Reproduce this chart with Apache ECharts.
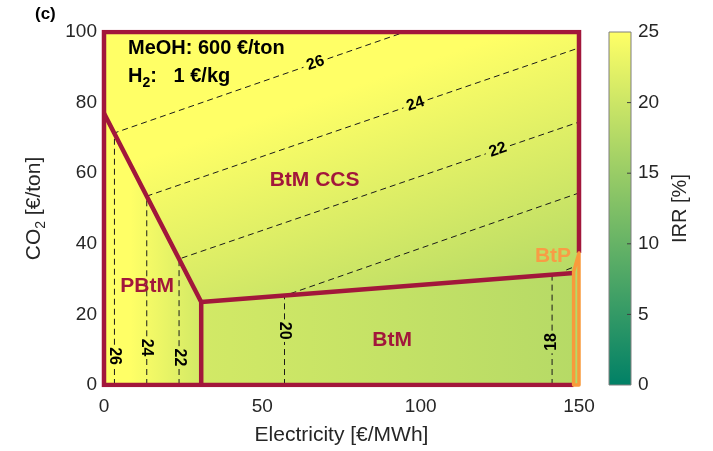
<!DOCTYPE html>
<html>
<head>
<meta charset="utf-8">
<script src="https://cdn.jsdelivr.net/npm/echarts@6/dist/echarts.min.js"></script>
<style>
  html, body { margin: 0; padding: 0; background: #ffffff; }
  #chart { width: 713px; height: 451px; }
</style>
</head>
<body>
<div id="chart"></div>
<script>
// ---- axes ----
const xTicks = [0, 50, 100, 150];          // Electricity [€/MWh]
const yTicks = [0, 20, 40, 60, 80, 100];   // CO2 [€/ton]
const irrTicks = [0, 5, 10, 15, 20, 25];   // IRR [%]

// ---- operating regions, vertices as [electricity, CO2] ----
const regionCCS  = [[0, 77], [0, 100], [150, 100], [150, 37.4], [148.3, 31.7], [30.7, 23.5]];
const regionPBtM = [[0, 0], [0, 77], [30.7, 23.5], [30.7, 0]];
const regionBtM  = [[30.7, 0], [30.7, 23.5], [148.3, 31.7], [148.3, 0]];
const regionBtP  = [[148.3, 0], [148.3, 32.1], [150, 37.4], [150, 0]];

// ---- region borders ----
const borderOuter = [[150, 37.4], [150, 100], [0, 100], [0, 0], [148.3, 0]];
const borderPBtM  = [[0, 77], [30.7, 23.5], [30.7, 0]];
const borderBtM   = [[30.7, 23.5], [148.3, 31.7]];

// ---- IRR iso-lines (segments, broken where the label sits) ----
const contour26 = [[[3.3, 0], [3.3, 5.0]], [[3.3, 11.4], [3.3, 71.4], [63.0, 90.0]], [[70.6, 92.4], [95, 100]]];
const contour24 = [[[13.5, 0], [13.5, 7.4]], [[13.5, 13.8], [13.5, 53.5], [94.6, 78.5]], [[102.2, 80.8], [150, 95.5]]];
const contour22 = [[[23.7, 0], [23.7, 4.6]], [[23.7, 11.0], [23.7, 35.7], [120.6, 65.5]], [[128.2, 67.8], [150, 74.5]]];
const contour20 = [[[57, 0], [57, 12.2]], [[57, 18.6], [57, 25.3], [150, 54.4]]];
const contour18 = [[[141.5, 0], [141.5, 9.0]], [[141.5, 15.4], [141.5, 31.2]], [[146, 32.6], [150, 34.0]]];

// ---- iso-line labels: [electricity, CO2, IRR] ----
const contourLabels = [
  [3.3, 8.2, 26], [13.5, 10.6, 24], [23.7, 7.8, 22], [57, 15.4, 20], [141.5, 12.2, 18],
  [66.8, 91.2, 26], [98.4, 79.6, 24], [124.4, 66.6, 22]
];

// ---- region names ----
const regionNames = [
  [66.5, 58, 'BtM CCS'], [13.6, 28, 'PBtM'], [91, 12.7, 'BtM'], [141.8, 36.5, 'BtP']
];

// ---- shading keys: [electricity, IRR] read along the iso-lines ----
const shadePBtM = [[0, 25], [8.4, 25], [23.7, 22], [30.7, 20.6]];
const shadeBtM  = [[30.7, 20.6], [57, 20], [141.5, 18], [148.3, 17.8]];

// ---------------------------------------------------------------
const FONT = '"Liberation Sans", Arial, Helvetica, sans-serif';
const TEXT = '#262626';
const RED = '#a2173b';
const ORANGE = '#f99a3c';

// green-to-yellow colour map over 0..25 % IRR
function irrColor(v) {
  const t = Math.max(0, Math.min(1, v / 25));
  return 'rgb(' + Math.round(255 * t) + ',' + Math.round(128 + 127 * t) + ',102)';
}

function horizontalShade(api, keys) {
  const x0 = api.coord([keys[0][0], 0])[0];
  const x1 = api.coord([keys[keys.length - 1][0], 0])[0];
  const stops = keys.map(k => ({
    offset: (api.coord([k[0], 0])[0] - x0) / (x1 - x0),
    color: irrColor(k[1])
  }));
  return new echarts.graphic.LinearGradient(x0, 0, x1, 0, stops, true);
}

// CCS shading runs across the sloped iso-lines, from the 26 % line to the 18 % line
function ccsShade(api) {
  const a = api.coord([3.3, 71.4]);
  const e = api.coord([95, 100]);
  let dx = e[0] - a[0], dy = e[1] - a[1];
  const len = Math.hypot(dx, dy); dx /= len; dy /= len;
  let nx = -dy, ny = dx;
  if (ny < 0) { nx = -nx; ny = -ny; }
  const q = api.coord([150, 34.0]);
  const d = (q[0] - a[0]) * nx + (q[1] - a[1]) * ny;
  const b = [a[0] + nx * d, a[1] + ny * d];
  return new echarts.graphic.LinearGradient(a[0], a[1], b[0], b[1], [
    { offset: 0, color: irrColor(26) },
    { offset: 1 / 8, color: irrColor(25) },
    { offset: 1, color: irrColor(18) }
  ], true);
}

function regionSeries(points, fillFn, z) {
  return {
    type: 'custom', xAxisIndex: 0, yAxisIndex: 0, z: z, silent: true,
    data: [[0, 0]],
    renderItem: function (params, api) {
      return {
        type: 'polygon',
        shape: { points: points.map(p => api.coord(p)) },
        style: { fill: fillFn(api), stroke: 'none' }
      };
    }
  };
}

function lineSeries(points, color, width, dashed, z) {
  return {
    type: 'line', xAxisIndex: 0, yAxisIndex: 0, z: z, silent: true,
    data: points, symbol: 'none', animation: false,
    lineStyle: {
      color: color, width: width,
      type: dashed ? [6, 4] : 'solid',
      cap: 'butt', join: 'miter'
    }
  };
}

const series = [];
series.push(regionSeries(regionCCS, ccsShade, 1));
series.push(regionSeries(regionPBtM, api => horizontalShade(api, shadePBtM), 1));
series.push(regionSeries(regionBtM, api => horizontalShade(api, shadeBtM), 1));

[contour26, contour24, contour22, contour20, contour18].forEach(c =>
  c.forEach(seg => series.push(lineSeries(seg, '#1a1a1a', 1, true, 2))));

// labels on the iso-lines
const labelRotation = { down: -90, up: 90, sloped: 19 };
series.push({
  type: 'scatter', xAxisIndex: 0, yAxisIndex: 0, z: 3, silent: true,
  symbolSize: 0, animation: false, itemStyle: { opacity: 1 },
  data: contourLabels.map((d, i) => ({
    value: d,
    label: { rotate: i < 5 ? (d[2] === 18 ? labelRotation.up : labelRotation.down) : labelRotation.sloped }
  })),
  label: {
    show: true, position: 'inside', formatter: p => String(p.value[2]),
    color: '#000', fontFamily: FONT, fontWeight: 'bold', fontSize: 16
  }
});

series.push(lineSeries(borderOuter, RED, 4.5, false, 4));
series.push(lineSeries(borderPBtM, RED, 4.5, false, 4));
series.push(lineSeries(borderBtM, RED, 4.5, false, 4));

// BtP sliver
series.push({
  type: 'custom', xAxisIndex: 0, yAxisIndex: 0, z: 5, silent: true,
  data: [[0, 0]],
  renderItem: function (params, api) {
    return {
      type: 'polygon',
      shape: { points: regionBtP.map(p => api.coord(p)) },
      style: { fill: irrColor(17.8), stroke: ORANGE, lineWidth: 3.5, lineJoin: 'round' }
    };
  }
});

// region names
series.push({
  type: 'scatter', xAxisIndex: 0, yAxisIndex: 0, z: 6, silent: true,
  symbolSize: 0, animation: false, itemStyle: { opacity: 1 },
  data: regionNames.map(d => ({
    value: d,
    label: { color: d[2] === 'BtP' ? '#f89c45' : RED }
  })),
  label: {
    show: true, position: 'inside', formatter: p => p.value[2],
    fontFamily: FONT, fontWeight: 'bold', fontSize: 21
  }
});

// colour bar with inward ticks on its right edge
series.push({
  type: 'custom', xAxisIndex: 1, yAxisIndex: 1, z: 1, silent: true,
  data: [[0, 0]],
  renderItem: function (params, api) {
    const p0 = api.coord([0, irrTicks[0]]);
    const p1 = api.coord([1, irrTicks[irrTicks.length - 1]]);
    const children = [{
      type: 'rect',
      shape: { x: p0[0], y: p1[1], width: p1[0] - p0[0], height: p0[1] - p1[1] },
      style: {
        fill: new echarts.graphic.LinearGradient(0, 1, 0, 0, [
          { offset: 0, color: irrColor(irrTicks[0]) },
          { offset: 1, color: irrColor(irrTicks[irrTicks.length - 1]) }
        ]),
        stroke: '#7f7f7f', lineWidth: 1
      }
    }];
    irrTicks.slice(1, -1).forEach(v => {
      const p = api.coord([1, v]);
      children.push({
        type: 'line',
        shape: { x1: p[0], y1: p[1], x2: p[0] - 4, y2: p[1] },
        style: { stroke: '#404040', lineWidth: 1 }
      });
    });
    return { type: 'group', children: children };
  }
});

const option = {
  backgroundColor: '#ffffff',
  animation: false,
  textStyle: { fontFamily: FONT },
  grid: [
    { left: 104, right: 134, top: 32, bottom: 66 },
    { left: 609, width: 22, top: 32, bottom: 66 }
  ],
  xAxis: [
    {
      type: 'value', gridIndex: 0, min: xTicks[0], max: xTicks[xTicks.length - 1],
      interval: xTicks[1] - xTicks[0],
      axisLine: { show: false }, axisTick: { show: false }, splitLine: { show: false },
      axisLabel: { color: TEXT, fontSize: 19, margin: 12, fontFamily: FONT },
      name: 'Electricity [€/MWh]', nameLocation: 'middle', nameGap: 40,
      nameTextStyle: { color: TEXT, fontSize: 21, fontFamily: FONT }
    },
    {
      type: 'value', gridIndex: 1, min: 0, max: 1, show: false
    }
  ],
  yAxis: [
    {
      type: 'value', gridIndex: 0, min: yTicks[0], max: yTicks[yTicks.length - 1],
      interval: yTicks[1] - yTicks[0],
      axisLine: { show: false }, axisTick: { show: false }, splitLine: { show: false },
      axisLabel: { color: TEXT, fontSize: 19, margin: 7, fontFamily: FONT },
      name: 'CO{sub|2} [€/ton]', nameLocation: 'middle', nameGap: 56,
      nameTextStyle: {
        color: TEXT, fontSize: 21, fontFamily: FONT, lineHeight: 28,
        rich: { sub: { fontSize: 14, lineHeight: 14, verticalAlign: 'bottom', color: TEXT, fontFamily: FONT } }
      }
    },
    {
      type: 'value', gridIndex: 1, position: 'right',
      min: irrTicks[0], max: irrTicks[irrTicks.length - 1], interval: irrTicks[1] - irrTicks[0],
      axisLine: { show: false }, axisTick: { show: false }, splitLine: { show: false },
      axisLabel: { color: TEXT, fontSize: 19, margin: 7, fontFamily: FONT },
      name: 'IRR [%]', nameLocation: 'middle', nameGap: 39,
      nameTextStyle: { color: TEXT, fontSize: 20, fontFamily: FONT }
    }
  ],
  graphic: [
    {
      type: 'text', left: 35, top: 6, z: 100,
      style: { text: '(c)', font: 'bold 17px ' + FONT, fill: '#000' }
    },
    {
      type: 'text', left: 128, top: 38, z: 100,
      style: { text: 'MeOH: 600 €/ton', font: 'bold 20px ' + FONT, fill: '#000' }
    },
    {
      type: 'text', left: 128, top: 62, z: 100,
      style: {
        text: 'H{s|2}:   1 €/kg',
        font: 'bold 20px ' + FONT, fill: '#000', lineHeight: 28,
        rich: { s: { font: 'bold 14px ' + FONT, fill: '#000', lineHeight: 14, verticalAlign: 'bottom' } }
      }
    }
  ],
  series: series
};

const chart = echarts.init(document.getElementById('chart'));
chart.setOption(option);
</script>
</body>
</html>
